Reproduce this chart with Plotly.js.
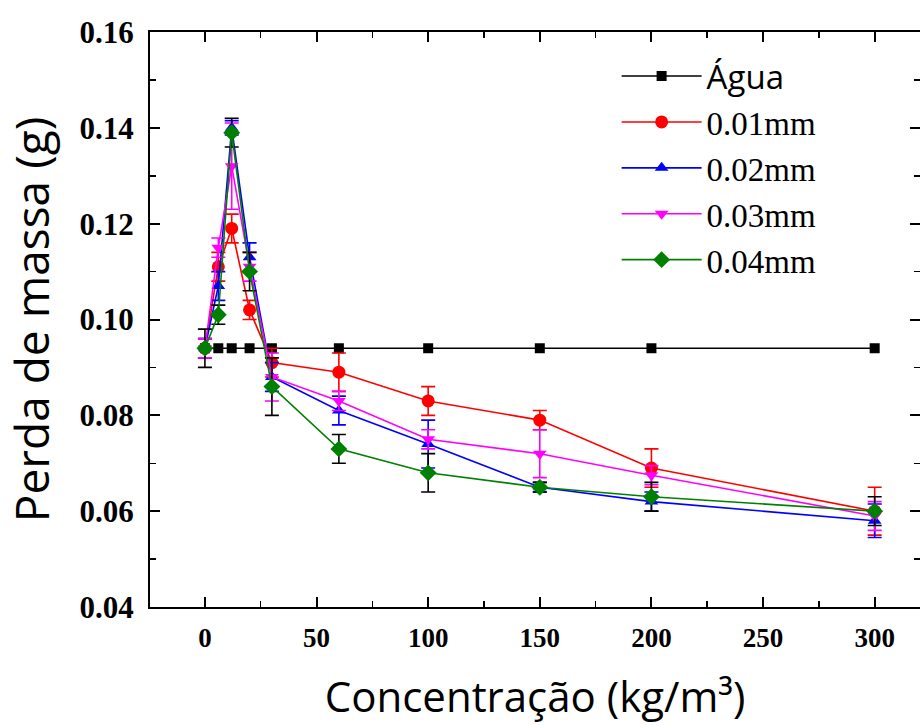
<!DOCTYPE html>
<html>
<head>
<meta charset="utf-8">
<script src="https://cdn.plot.ly/plotly-3.0.1.min.js"></script>
<style>
html,body{margin:0;padding:0;background:#fff;}
#chart{width:920px;height:725px;}
</style>
</head>
<body>
<div id="chart"></div>
<script>
// Concentration (kg/m³)
const conc = [0, 6, 12, 20, 30, 60, 100, 150, 200, 300];
// Mass loss (g)
const agua  = [0.094, 0.094, 0.094, 0.094, 0.094, 0.094, 0.094, 0.094, 0.094, 0.094];
const mm001 = [0.094, 0.111, 0.119, 0.102, 0.091, 0.089, 0.083, 0.079, 0.069, 0.060];
const err001 = [0.002, 0.003, 0.003, 0.002, 0.003, 0.004, 0.003, 0.002, 0.004, 0.005];
const mm002 = [0.094, 0.107, 0.140, 0.113, 0.088, 0.081, 0.074, 0.065, 0.062, 0.058];
const err002 = [0.002, 0.003, 0.0015, 0.003, 0.003, 0.003, 0.005, 0.001, 0.002, 0.0035];
const mm003 = [0.094, 0.115, 0.132, 0.111, 0.088, 0.083, 0.075, 0.072, 0.0675, 0.059];
const err003 = [0.002, 0.002, 0.009, 0.003, 0.005, 0.002, 0.002, 0.005, 0.002, 0.003];
const mm004 = [0.094, 0.101, 0.139, 0.110, 0.086, 0.073, 0.068, 0.065, 0.063, 0.060];
const err004 = [0.004, 0.002, 0.003, 0.004, 0.006, 0.003, 0.004, 0.001, 0.003, 0.003];

const names = ['<span style="font-family:\'Open Sans\'">Água</span>', '0.01mm', '0.02mm', '0.03mm', '0.04mm'];
const xTicks = [0, 50, 100, 150, 200, 250, 300];

function trace(y, err, name, color, errColor, symbol, size) {
  const t = {
    x: conc, y: y, name: name, type: 'scatter', mode: 'lines+markers',
    line: {color: color, width: 1.6},
    marker: {color: color, symbol: symbol, size: size},
    cliponaxis: false
  };
  if (err) {
    t.error_y = {type: 'data', array: err, visible: true, color: errColor, thickness: 1.6, width: 7};
  }
  return t;
}

const data = [
  trace(agua, null, names[0], '#000000', '#000000', 'square', 10),
  trace(mm001, err001, names[1], '#ff0000', '#ff0000', 'circle', 13),
  trace(mm002, err002, names[2], '#0000ff', '#0000ff', 'triangle-up', 12),
  trace(mm003, err003, names[3], '#ff00ff', '#ff00ff', 'triangle-down', 12),
  trace(mm004, err004, names[4], '#008000', '#000000', 'diamond', 13)
];

const layout = {
  width: 920, height: 725,
  margin: {l: 150, r: 0, t: 32, b: 118},
  paper_bgcolor: '#ffffff', plot_bgcolor: '#ffffff',
  showlegend: true,
  legend: {
    x: 0.606, y: 0.972, xanchor: 'left', yanchor: 'top',
    bgcolor: 'rgba(0,0,0,0)',
    font: {family: 'Liberation Serif', size: 33, color: '#000'},
    itemwidth: 80, tracegroupgap: 0
  },
  xaxis: {
    range: [-24.6, 320.3],
    tickvals: xTicks,
    ticktext: xTicks.map(String),
    ticks: 'inside', ticklen: 10, tickwidth: 2, tickcolor: '#000',
    minor: {tickvals: [25, 75, 125, 175, 225, 275], ticks: 'inside', ticklen: 6, tickwidth: 1.5, tickcolor: '#000'},
    showline: true, linewidth: 2, linecolor: '#000', mirror: 'ticks',
    showgrid: false, zeroline: false,
    tickfont: {family: 'Liberation Serif', size: 27, color: '#000', weight: 'bold'},
    ticklabelstandoff: 6,
    title: {text: 'Concentração (kg/m³)', font: {family: 'Open Sans', size: 42, color: '#000'}, standoff: 30}
  },
  yaxis: {
    range: [0.04, 0.16],
    dtick: 0.02, tick0: 0.04,
    tickformat: '.2f',
    ticks: 'inside', ticklen: 10, tickwidth: 2, tickcolor: '#000',
    minor: {dtick: 0.01, ticks: 'inside', ticklen: 6, tickwidth: 1.5, tickcolor: '#000'},
    showline: true, linewidth: 2, linecolor: '#000', mirror: 'ticks',
    showgrid: false, zeroline: false,
    tickfont: {family: 'Liberation Serif', size: 31, color: '#000', weight: 'bold'},
    ticklabelstandoff: 8,
    title: {text: 'Perda de massa (g)', font: {family: 'Open Sans', size: 46, color: '#000'}, standoff: 18}
  }
};

Plotly.newPlot('chart', data, layout, {displayModeBar: false, staticPlot: true});
</script>
</body>
</html>
